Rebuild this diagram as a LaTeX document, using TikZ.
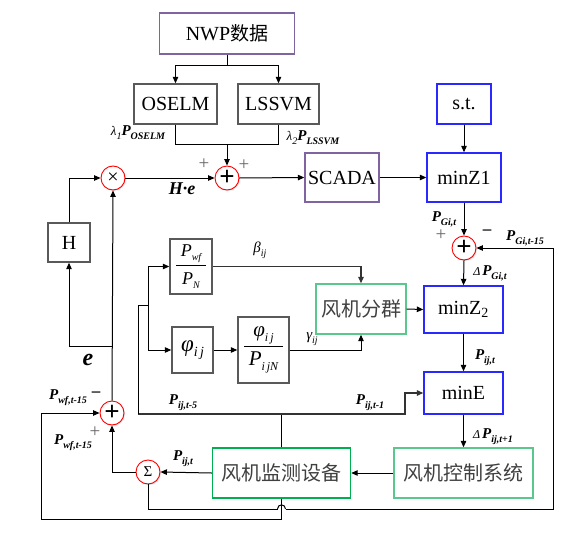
\documentclass[tikz,border=0pt]{standalone}
\usepackage{fontspec}
\setmainfont{Liberation Serif}
\newfontfamily\cjk{Noto Sans CJK SC}
\usetikzlibrary{arrows.meta,shadows,calc}
\definecolor{purp}{RGB}{128,100,162}
\definecolor{bluebox}{RGB}{40,40,255}
\definecolor{greenA}{RGB}{0,176,80}
\definecolor{greenB}{RGB}{90,200,140}
\definecolor{grayb}{RGB}{89,89,89}
\newcommand\sbs[1]{\raisebox{-0.45ex}{\fontsize{10}{10}\selectfont #1}}
\newcommand\lbl[2]{{\fontsize{15}{15}\selectfont\bfseries\itshape #1}\sbs{\bfseries\itshape #2}}
\newcommand\fsz[1]{\fontsize{#1}{#1}\selectfont}
\begin{document}
\begin{tikzpicture}[x=1pt,y=-1pt,
  font=\fsz{20},
  >={Triangle[length=6.5pt,width=5.5pt]},
  line width=1pt,
  boxbase/.style={draw, rectangle, line width=1.4pt, inner sep=0pt, fill=white},
  gbox/.style={boxbase, draw=grayb},
  pbox/.style={boxbase, draw=purp},
  bbox/.style={boxbase, draw=bluebox},
  gnA/.style={boxbase, draw=greenA, font=\cjk\fsz{20}, text=black!75},
  gnB/.style={boxbase, draw=greenB, font=\cjk\fsz{20}, text=black!75},
  sumnode/.style={circle, draw=red, line width=0.9pt, fill=white, minimum size=24pt, inner sep=0pt,
     drop shadow={opacity=0.25,shadow xshift=1pt,shadow yshift=-1pt}},
  sgn/.style={text=black!60, font=\fsz{19}},
  msgn/.style={font=\fsz{17}\bfseries},
  heavy/.style={line width=1.3pt, draw=black!80}
]
\useasboundingbox (0,0) rectangle (588,543);

% boxes
\node[pbox, minimum width=135pt, minimum height=41pt] (nwp) at (227,33.5) {NWP{\cjk\fsz{19}数据}};
\node[gbox, minimum width=83pt, minimum height=40pt] (oselm) at (175.5,104) {OSELM};
\node[gbox, minimum width=81pt, minimum height=40pt] (lssvm) at (278.5,104) {LSSVM};
\node[pbox, minimum width=74pt, minimum height=49pt] (scada) at (342,177.5) {SCADA};
\node[bbox, minimum width=54pt, minimum height=40pt] (st) at (464,104) {s.t.};
\node[bbox, minimum width=74pt, minimum height=49pt] (minz1) at (464,177.5) {minZ1};
\node[gbox, minimum width=42pt, minimum height=39pt] (H) at (69,242.5) {H};
\node[bbox, minimum width=79pt, minimum height=47pt] (minz2) at (463.5,309.5) {minZ\textsubscript{2}};
\node[gnB, minimum width=90pt, minimum height=50pt] (cluster) at (361,309) {风机分群};
\node[gbox, minimum width=42pt, minimum height=55pt] (pwf) at (191,266.5)
  {$\displaystyle\frac{\hbox to 30pt{\hfil\fsz{18}\itshape P\sbs{wf}\hfil}}{\hbox to 30pt{\hfil\fsz{18}\itshape P\sbs{N}\hfil}}$};
\node[gbox, minimum width=41pt, minimum height=46pt] (phi) at (192.5,350)
  {{\fsz{23}\itshape φ}\raisebox{-0.6ex}{\fsz{14}\itshape i\,j}};
\node[gbox, minimum width=51pt, minimum height=66pt] (phiP) at (263.5,350)
  {$\displaystyle\frac{\hbox to 39pt{\hfil{\fsz{21}\itshape φ}\raisebox{-0.6ex}{\fsz{12}\itshape i\,j}\hfil}}{\hbox to 39pt{\hfil{\fsz{21}\itshape P}\raisebox{-0.6ex}{\fsz{12}\itshape i\,jN}\hfil}}$};
\node[bbox, minimum width=79pt, minimum height=42pt] (minE) at (463.5,393) {minE};
\node[gnB, minimum width=139pt, minimum height=50pt] (ctrl) at (463.5,473) {风机控制系统};
\node[gnA, minimum width=138pt, minimum height=50pt] (mon) at (281.5,473) {风机监测设备};

% summing junctions
\node[sumnode] (mult) at (113,178) {\fsz{20}×};
\node[sumnode] (sumtop) at (227,178) {\fsz{27}\bfseries +};
\node[sumnode] (sumg) at (464,248) {\fsz{27}\bfseries +};
\node[sumnode] (sumb) at (112,413) {\fsz{27}\bfseries +};
\node[sumnode] (sigma) at (148,472) {\fsz{15}Σ};

% connectors top
\coordinate (j1) at (227,65);
\draw (nwp.south) -- (j1);
\draw[->] (j1) -| (oselm.north);
\draw[->] (j1) -| (lssvm.north);
\coordinate (j2) at (227,144);
\draw (oselm.south) |- (j2);
\draw (lssvm.south) |- (j2);
\draw[->] (j2) -- (sumtop.north);
\draw[->] (mult.east) -- (sumtop.west);
\draw[->] (sumtop.east) -- (scada.west);
\draw[->] (scada.east) -- (minz1.west);
\draw[->] (st.south) -- (minz1.north);
\draw[->] (minz1.south) -- (sumg.north);
\draw[->] (sumg.south) -- (minz2.north);
\draw[->] (minz2.south) -- (minE.north);
\draw[->] (minE.south) -- (ctrl.north);
\draw[->] (ctrl.west) -- (mon.east);
\draw[->] (mon.west) -- (sigma.east);
\draw[->] (sigma.west) -| (sumb.south);
\draw[->] (sumb.north) -- (mult.south);
\coordinate (ej) at (112,346);
\draw[->] (ej) -| (H.south);
\draw[->] (H.north) |- (mult.west);
\coordinate (lb) at (41,519);
\draw[->] (mon.south) |- (lb) |- (sumb.west);
\coordinate (hopL) at (277.5,509);
\coordinate (hopR) at (285.5,509);
\coordinate (rb) at (553,509);
\draw (sigma.south) |- (hopL);
\draw (hopL) .. controls (277.5,503.5) and (285.5,503.5) .. (hopR);
\draw[->] (hopR) -- (rb) |- (sumg.east);

% middle branch
\coordinate (h1) at (138,414);
\coordinate (h2) at (405,414);
\draw (mon.north) -- (mon.north |- h1);
\draw[->, heavy] (h1) -- (h2) |- (minE.west);
\coordinate (b2) at (148,305);
\draw (h1) |- (b2);
\draw[->] (b2) |- (pwf.west);
\draw[->] (b2) |- (phi.west);
\draw[->, heavy] (pwf.east) -| (cluster.north);
\draw[->] (phi.east) -- (phiP.west);
\draw[->] (phiP.east) -| (cluster.south);
\draw[->] (cluster.east) -- (minz2.west);

% labels
\node (l1) at (138,133) {{\fsz{13}\itshape λ}\sbs{\itshape 1}\lbl{P}{OSELM}};
\node (l2) at (313,138) {{\fsz{13}\itshape λ}\sbs{\itshape 2}\lbl{P}{LSSVM}};
\node[sgn] (s1) at (204,164) {+};
\node[sgn] (s2) at (244,165) {+};
\node (he) at (182,189) {\fsz{18}\bfseries\itshape H·e};
\node (el) at (88,360) {\fsz{24}\bfseries\itshape e};
\node (l3) at (444,219) {\lbl{P}{Gi,t}};
\node[sgn] (s3) at (441,235) {+};
\node[msgn] (m1) at (487,232) {–};
\node (l4) at (525,238) {\lbl{P}{Gi,t-15}};
\node (l5) at (490,273) {{\fsz{12}\itshape Δ\,}\lbl{P}{Gi,t}};
\node (lb1) at (260,250) {{\fsz{15}\itshape β}\sbs{\itshape ij}};
\node (lg1) at (312,339) {{\fsz{15}\itshape γ}\sbs{\itshape ij}};
\node (l6) at (485,358) {\lbl{P}{ij,t}};
\node (l7) at (183,403) {\lbl{P}{ij,t-5}};
\node (l8) at (370,403) {\lbl{P}{ij,t-1}};
\node (l9) at (493,437) {{\fsz{12}\itshape Δ\,}\lbl{P}{ij,t+1}};
\node (l10) at (68,398) {\lbl{P}{wf,t-15}};
\node[msgn] (m2) at (96,394) {–};
\node[sgn] (s4) at (95,432) {+};
\node (l11) at (73,443) {\lbl{P}{wf,t-15}};
\node (l12) at (183,459) {\lbl{P}{ij,t}};
\end{tikzpicture}
\end{document}
